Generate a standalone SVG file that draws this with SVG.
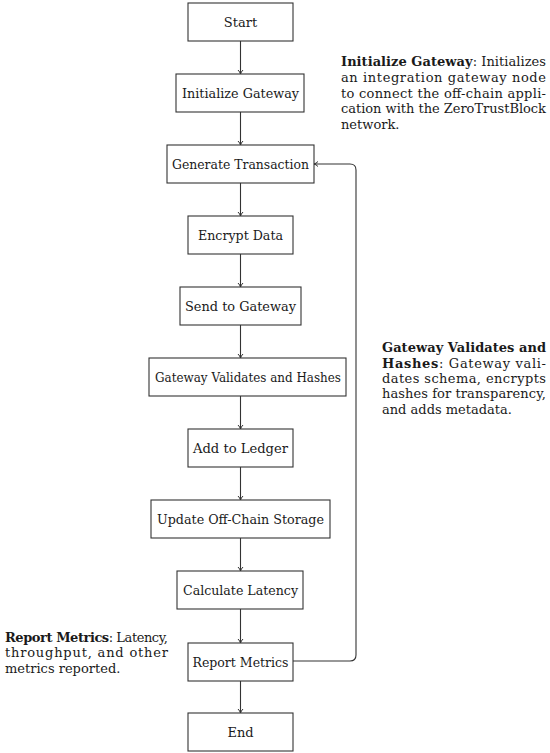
<svg xmlns="http://www.w3.org/2000/svg" width="550" height="753" viewBox="0 0 550 753">
<style>
.box{fill:#fff;stroke:#333;stroke-width:1.1}
.lbl{font-family:"DejaVu Serif",serif;font-size:13px;fill:#1a1a1a;text-anchor:middle;dominant-baseline:central}
.ann{font-family:"DejaVu Serif",serif;font-size:13px;fill:#1a1a1a}
.b{font-weight:bold}
.edge{fill:none;stroke:#333;stroke-width:1.1;marker-end:url(#arr)}
</style>
<defs>
<marker id="arr" viewBox="0 0 8 8" refX="7.5" refY="4" markerWidth="8" markerHeight="8" markerUnits="userSpaceOnUse" orient="auto">
<path d="M3.5,1.5 Q5.5,3.5 7.5,4 Q5.5,4.5 3.5,6.5" fill="none" stroke="#333" stroke-width="1"/>
</marker>
</defs>
<rect width="550" height="753" fill="#fff"/>
<g id="connectors">
<line class="edge" x1="240.5" y1="41" x2="240.5" y2="74"/>
<line class="edge" x1="240.5" y1="112" x2="240.5" y2="145"/>
<line class="edge" x1="240.5" y1="183" x2="240.5" y2="216"/>
<line class="edge" x1="240.5" y1="254" x2="240.5" y2="287"/>
<line class="edge" x1="240.5" y1="325" x2="240.5" y2="358"/>
<line class="edge" x1="240.5" y1="396" x2="240.5" y2="429"/>
<line class="edge" x1="240.5" y1="467" x2="240.5" y2="500"/>
<line class="edge" x1="240.5" y1="538" x2="240.5" y2="571"/>
<line class="edge" x1="240.5" y1="609" x2="240.5" y2="643"/>
<line class="edge" x1="240.5" y1="681" x2="240.5" y2="713"/>
<path class="edge" d="M293,661 H350 Q356,661 356,655 V170 Q356,164 350,164 H314"/>
</g>
<g id="start"><rect class="box" x="188" y="3" width="105" height="38"/><text class="lbl" x="240.5" y="22">Start</text></g>
<g id="init"><rect class="box" x="176" y="74" width="128" height="38"/><text class="lbl" x="240.5" y="93" textLength="117" lengthAdjust="spacingAndGlyphs">Initialize Gateway</text></g>
<g id="gen"><rect class="box" x="167" y="145" width="147" height="38"/><text class="lbl" x="240.5" y="164" textLength="137" lengthAdjust="spacingAndGlyphs">Generate Transaction</text></g>
<g id="enc"><rect class="box" x="188" y="216" width="105" height="38"/><text class="lbl" x="240.5" y="235" textLength="85" lengthAdjust="spacingAndGlyphs">Encrypt Data</text></g>
<g id="send"><rect class="box" x="180" y="287" width="121" height="38"/><text class="lbl" x="240.5" y="306" textLength="111" lengthAdjust="spacingAndGlyphs">Send to Gateway</text></g>
<g id="validate"><rect class="box" x="149" y="358" width="197" height="38"/><text class="lbl" x="248" y="377" textLength="186" lengthAdjust="spacingAndGlyphs">Gateway Validates and Hashes</text></g>
<g id="ledger"><rect class="box" x="188" y="429" width="105" height="38"/><text class="lbl" x="240.5" y="448" textLength="95" lengthAdjust="spacingAndGlyphs">Add to Ledger</text></g>
<g id="offchain"><rect class="box" x="151" y="500" width="179" height="38"/><text class="lbl" x="240.5" y="519" textLength="167" lengthAdjust="spacingAndGlyphs">Update Off-Chain Storage</text></g>
<g id="latency"><rect class="box" x="177" y="571" width="126" height="38"/><text class="lbl" x="240.5" y="590" textLength="115" lengthAdjust="spacingAndGlyphs">Calculate Latency</text></g>
<g id="report"><rect class="box" x="188" y="643" width="105" height="38"/><text class="lbl" x="240.5" y="662" textLength="96" lengthAdjust="spacingAndGlyphs">Report Metrics</text></g>
<g id="end"><rect class="box" x="188" y="713" width="105" height="38"/><text class="lbl" x="240.5" y="732">End</text></g>
<g id="note-init" class="ann">
<text x="341" y="66" textLength="205" lengthAdjust="spacing"><tspan class="b">Initialize Gateway</tspan>:  Initializes</text>
<text x="341" y="82" textLength="205" lengthAdjust="spacing">an integration gateway node</text>
<text x="341" y="98" textLength="205" lengthAdjust="spacing">to connect the off-chain appli-</text>
<text x="341" y="113" textLength="205" lengthAdjust="spacing">cation with the ZeroTrustBlock</text>
<text x="341" y="129">network.</text>
</g>
<g id="note-validate" class="ann">
<text x="382" y="352" textLength="164" lengthAdjust="spacing" class="b">Gateway Validates and</text>
<text x="382" y="368" textLength="164" lengthAdjust="spacing"><tspan class="b">Hashes</tspan>:  Gateway vali-</text>
<text x="382" y="383" textLength="164" lengthAdjust="spacing">dates schema, encrypts</text>
<text x="382" y="398" textLength="164" lengthAdjust="spacing">hashes for transparency,</text>
<text x="382" y="414">and adds metadata.</text>
</g>
<g id="note-report" class="ann">
<text x="5" y="642" textLength="163" lengthAdjust="spacing"><tspan class="b">Report Metrics</tspan>:  Latency,</text>
<text x="5" y="657" textLength="163" lengthAdjust="spacing">throughput, and other</text>
<text x="5" y="673">metrics reported.</text>
</g>
</svg>
